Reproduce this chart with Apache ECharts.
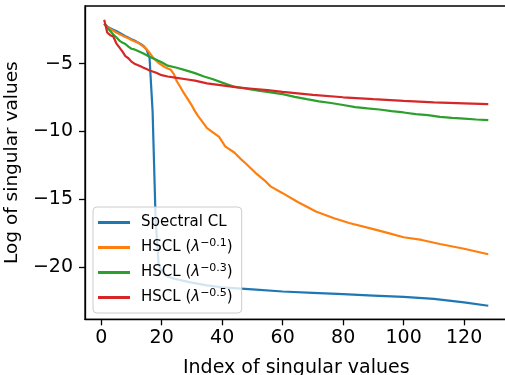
<!DOCTYPE html>
<html>
<head>
<meta charset="utf-8">
<script src="https://cdn.jsdelivr.net/npm/echarts@6/dist/echarts.min.js"></script>
<style>html,body{margin:0;padding:0;background:#fff}#c{width:505px;height:375px}</style>
</head>
<body>
<div id="c"></div>
<script>
const xTicks = [0, 20, 40, 60, 80, 100, 120];
const yTicks = [-20, -15, -10, -5];
const seriesNames = ['Spectral CL', 'HSCL (λ^−0.1)', 'HSCL (λ^−0.3)', 'HSCL (λ^−0.5)'];

const blueX = [1,2,3,4,5,6,7,8,9,10,11,12,13,14,15,16,17,18,19,20,21,22,24,26,28,30,35,40,50,60,70,80,90,100,110,120,128];
const blueY = [-2.05,-2.25,-2.4,-2.5,-2.6,-2.72,-2.85,-2.98,-3.08,-3.2,-3.3,-3.42,-3.55,-3.7,-3.95,-4.6,-8.5,-16.5,-19.8,-20.3,-20.55,-20.7,-20.85,-20.95,-21.05,-21.15,-21.35,-21.5,-21.65,-21.8,-21.9,-22.0,-22.1,-22.2,-22.35,-22.6,-22.85];

const orangeX = [1,2,3,4,5,6,7,8,9,10,11,12,13,14,15,16,17,18,19,20,21,22,23,24,25,26,27,28,29,30,31,32,33,35,39,41,44,46,48,51,54,56,60,65,71,77,82,90,95,100,106,112,120,128];
const orangeY = [-2.05,-2.3,-2.45,-2.58,-2.7,-2.82,-2.93,-3.03,-3.13,-3.25,-3.35,-3.43,-3.58,-3.75,-3.93,-4.2,-4.5,-4.75,-4.95,-5.1,-5.25,-5.35,-5.45,-5.75,-6.3,-6.65,-7.05,-7.4,-7.75,-8.1,-8.5,-8.85,-9.15,-9.75,-10.4,-11.1,-11.55,-12.0,-12.4,-13.05,-13.6,-14.05,-14.55,-15.2,-15.9,-16.4,-16.75,-17.2,-17.5,-17.8,-18.0,-18.3,-18.65,-19.05];

const greenX = [1,2,3,4,5,6,7,8,9,10,11,12,14,16,18,20,22,25,28,31,34,37,40,44,48,52,56,60,64,68,72,76,80,84,88,92,96,100,104,108,112,116,120,124,128];
const greenY = [-2.06,-2.35,-2.6,-2.85,-3.05,-3.3,-3.45,-3.55,-3.75,-3.9,-3.95,-4.05,-4.25,-4.5,-4.7,-4.9,-5.15,-5.3,-5.5,-5.7,-5.95,-6.15,-6.4,-6.7,-6.85,-7.0,-7.12,-7.25,-7.45,-7.62,-7.78,-7.9,-8.05,-8.2,-8.3,-8.38,-8.5,-8.6,-8.72,-8.8,-8.92,-9.0,-9.05,-9.12,-9.17];

const redX = [1,2,3,4,5,6,7,8,9,10,11,12,13,14,15,16,18,20,22,25,28,31,35,40,45,50,55,60,70,80,90,100,110,120,128];
const redY = [-1.76,-2.7,-2.9,-3.0,-3.5,-3.8,-4.1,-4.45,-4.6,-4.85,-5.0,-5.1,-5.2,-5.3,-5.4,-5.5,-5.65,-5.85,-5.95,-6.05,-6.15,-6.25,-6.45,-6.6,-6.75,-6.85,-6.95,-7.08,-7.3,-7.48,-7.62,-7.75,-7.85,-7.93,-7.99];

const colors = ['#1f77b4', '#ff7f0e', '#2ca02c', '#d62728'];
const xs = [blueX, orangeX, greenX, redX];
const ys = [blueY, orangeY, greenY, redY];

const FONT = 'DejaVu Sans';
const minus = v => (v < 0 ? '\u2212' : '') + Math.abs(v);

function legendFmt(name) {
  const i = name.indexOf('λ^');
  if (i < 0) return '{t|' + name + '}';
  const exp = name.slice(i + 2, name.length - 1);
  return '{t|HSCL (}{l|λ}{s|' + exp + '}{t|)}';
}

const chart = echarts.init(document.getElementById('c'), null, {renderer: 'canvas'});
chart.setOption({
  animation: false,
  color: colors,
  grid: {left: 85, top: 6, width: 422.5, height: 313.3, show: true, borderColor: '#000', borderWidth: 1.3,
         backgroundColor: 'transparent', containLabel: false, outerBoundsMode: 'none'},
  xAxis: {
    type: 'value', min: -5.35, max: 134.35,
    name: 'Index of singular values', nameLocation: 'middle', nameGap: 39,
    nameTextStyle: {fontFamily: FONT, fontSize: 19, color: '#000'},
    axisLine: {show: true, onZero: false, lineStyle: {color: '#000', width: 1.3}},
    axisTick: {show: true, length: 6, lineStyle: {color: '#000', width: 1.3}, customValues: xTicks},
    axisLabel: {fontFamily: FONT, fontSize: 19, color: '#000', margin: 9, customValues: xTicks, formatter: v => minus(v)},
    splitLine: {show: false}
  },
  yAxis: {
    type: 'value', min: -23.85, max: -0.75,
    name: 'Log of singular values', nameLocation: 'middle', nameGap: 60,
    nameTextStyle: {fontFamily: FONT, fontSize: 18.5, color: '#000'},
    axisLine: {show: true, onZero: false, lineStyle: {color: '#000', width: 1.3}},
    axisTick: {show: true, length: 6, lineStyle: {color: '#000', width: 1.3}, customValues: yTicks},
    axisLabel: {fontFamily: FONT, fontSize: 19, color: '#000', margin: 12, customValues: yTicks, formatter: v => minus(v)},
    splitLine: {show: false}
  },
  legend: {
    orient: 'vertical', left: 93, top: 207,
    padding: [8, 9, 8, 5], itemGap: 7.5,
    backgroundColor: 'rgba(255,255,255,0.8)', borderColor: '#cccccc', borderWidth: 1, borderRadius: 4,
    icon: 'rect', itemWidth: 32, itemHeight: 3,
    data: seriesNames,
    formatter: legendFmt,
    textStyle: {
      fontFamily: FONT, fontSize: 15, color: '#000', padding: [0, 0, 0, 6],
      rich: {
        t: {fontFamily: FONT, fontSize: 15, lineHeight: 20, color: '#000'},
        l: {fontFamily: FONT, fontSize: 15, lineHeight: 20, fontStyle: 'italic', color: '#000'},
        s: {fontFamily: FONT, fontSize: 11, lineHeight: 10, verticalAlign: 'top', color: '#000'}
      }
    }
  },
  series: seriesNames.map((n, k) => ({
    name: n, type: 'line', showSymbol: false, symbol: 'none', clip: true,
    lineStyle: {width: 2.2, color: colors[k]},
    data: xs[k].map((x, j) => [x, ys[k][j]])
  }))
});
</script>
</body>
</html>
